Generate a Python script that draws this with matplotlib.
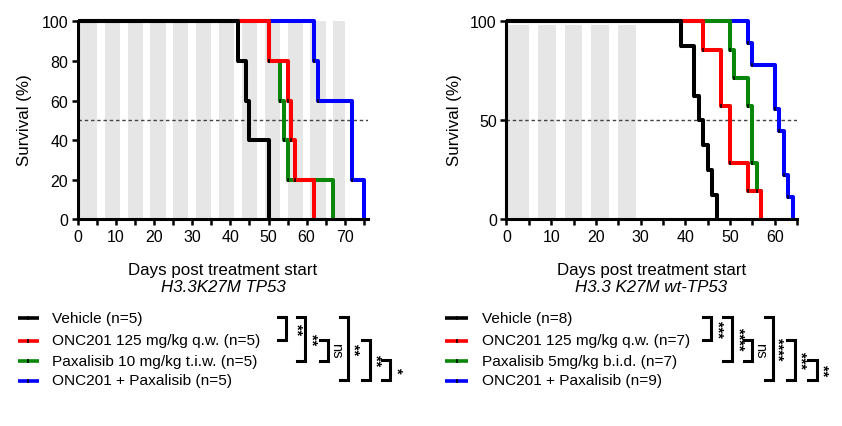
import numpy as np
import matplotlib
matplotlib.use('Agg')
import matplotlib.pyplot as plt
from matplotlib.ticker import MultipleLocator

plt.rcParams['font.family'] = ['Liberation Sans', 'DejaVu Sans']

# ---------------- data ----------------
# days of death for each mouse (no censoring)
left_vehicle = [42, 44, 45, 50, 50]
left_onc201 = [50, 55, 56, 57, 62]
left_paxalisib = [50, 53, 54, 55, 67]
left_combo = [62, 63, 72, 72, 75]

right_vehicle = [39, 42, 42, 43, 44, 45, 46, 47]
right_onc201 = [44, 48, 48, 50, 50, 54, 57]
right_paxalisib = [50, 51, 54, 55, 55, 56, 57]
right_combo = [54, 55, 60, 60, 61, 62, 62, 63, 64]

left_labels = ['Vehicle (n=5)', 'ONC201 125 mg/kg q.w. (n=5)',
               'Paxalisib 10 mg/kg t.i.w. (n=5)', 'ONC201 + Paxalisib (n=5)']
right_labels = ['Vehicle (n=8)', 'ONC201 125 mg/kg q.w. (n=7)',
                'Paxalisib 5mg/kg b.i.d. (n=7)', 'ONC201 + Paxalisib (n=9)']
group_colors = ['#000000', '#ff0000', '#0a870a', '#0000ff']

# treatment periods (grey bands), days
left_band_start = [0, 7, 13, 19, 25, 31, 37, 43, 49, 55, 61, 67]
left_band_end = [5, 11, 17, 23, 29, 35, 41, 47, 53, 59, 65, 70]
right_band_start = [0, 7, 13, 19, 25]
right_band_end = [5, 11, 17, 23, 29]

comparison_pairs = [(0, 1), (0, 2), (1, 2), (0, 3), (1, 3), (2, 3)]
left_significance = ['**', '**', 'ns', '**', '**', '*']
right_significance = ['***', '****', 'ns', '****', '***', '**']

left_subtitle = 'H3.3K27M TP53'
right_subtitle = 'H3.3 K27M wt-TP53'

# ---------------- layout ----------------
W, H = 842, 427
fig = plt.figure(figsize=(W / 100, H / 100), dpi=100)


def frac_rect(x0, x1, ytop, ybot):
    return [x0 / W, 1 - ybot / H, (x1 - x0) / W, (ybot - ytop) / H]


def km(days):
    d = np.sort(np.asarray(days))
    times, counts = np.unique(d, return_counts=True)
    surv = 100.0 * (1 - np.cumsum(counts) / len(d))
    return times, surv


def draw_panel(ax, groups, xmax, xticks_major, yticks, bstart, bend, btop):
    for s, e in zip(bstart, bend):
        ax.axvspan(s, e, ymin=0, ymax=btop / 100.0, color='#e6e6e6', lw=0, zorder=0)
    ax.axhline(50, color='#444444', lw=1.0, ls=(0, (2.5, 2)), zorder=1)
    # draw order: blue bottom ... black on top
    for i in reversed(range(len(groups))):
        times, surv = km(groups[i])
        x = np.concatenate([[0], times])
        y = np.concatenate([[100], surv])
        ax.step(x, y, where='post', color=group_colors[i], lw=2.9,
                zorder=3 + (len(groups) - i), clip_on=False, solid_capstyle='butt')
        m = surv > 0
        ax.plot(times[m], surv[m], ls='none', marker='|', ms=3.5, mew=1.1,
                color='k', zorder=10, clip_on=False)
    ax.set_xlim(0, xmax)
    ax.set_ylim(0, 100)
    ax.set_xticks(xticks_major)
    ax.xaxis.set_minor_locator(MultipleLocator(5))
    ax.set_yticks(yticks)
    for sp in ['top', 'right']:
        ax.spines[sp].set_visible(False)
    for sp in ['left', 'bottom']:
        ax.spines[sp].set_linewidth(2.2)
        ax.spines[sp].set_zorder(12)
    ax.tick_params(axis='both', which='both', direction='out', length=4, width=1.8,
                   labelsize=11.5, pad=3, colors='black')
    ax.patch.set_alpha(0)


axL = fig.add_axes(frac_rect(78, 78 + 76 * 3.81, 22.3, 220.3))
draw_panel(axL, [left_vehicle, left_onc201, left_paxalisib, left_combo], 76,
           np.arange(0, 71, 10), np.arange(0, 101, 20),
           left_band_start, left_band_end, 100)

axR = fig.add_axes(frac_rect(506.5, 506.5 + 65 * 4.47, 22.3, 220.3))
draw_panel(axR, [right_vehicle, right_onc201, right_paxalisib, right_combo], 65,
           np.arange(0, 61, 10), [0, 50, 100],
           right_band_start, right_band_end, 98)

# ---------------- overlay for labels, legend, brackets ----------------
ov = fig.add_axes([0, 0, 1, 1])
ov.set_xlim(0, W)
ov.set_ylim(H, 0)
ov.axis('off')
ov.patch.set_alpha(0)

# axis labels
for cx, yl_x, sub in [(223, 25, left_subtitle), (651.5, 455, right_subtitle)]:
    ov.text(cx, 270.5, 'Days post treatment start', ha='center', va='center', fontsize=12.2)
    ov.text(cx, 288, sub, ha='center', va='center', fontsize=12.2, style='italic')
    ov.text(yl_x, 120, 'Survival (%)', ha='center', va='center', fontsize=12.2, rotation=90)

rows = [319, 341.5, 362, 381.5]

# legends
for hx0, hx1, tx, labels in [(18, 38.5, 52, left_labels), (445, 468, 482, right_labels)]:
    for i, lab in enumerate(labels):
        ov.plot([hx0, hx1], [rows[i], rows[i]], color=group_colors[i], lw=2.6,
                solid_capstyle='butt')
        ov.plot([(hx0 + hx1) / 2], [rows[i]], marker='|', ms=3.5, mew=1.1, color='k')
        ov.text(tx, rows[i], lab, ha='left', va='center', fontsize=11.1)

# significance brackets
left_bracket_x = [286, 305, 328.3, 348.3, 370, 390]
left_label_x = [297, 312, 336, 353.5, 375.5, 397]
right_bracket_x = [711, 731.7, 752.3, 773.3, 795, 816.7]
right_label_x = [718, 738.5, 760, 778, 800.5, 823]
arm = 8.5
for bxs, lxs, sigs in [(left_bracket_x, left_label_x, left_significance),
                       (right_bracket_x, right_label_x, right_significance)]:
    for (a, b), bx, lx, s in zip(comparison_pairs, bxs, lxs, sigs):
        y0, y1 = rows[a] - 1, rows[b] - 0.5
        ov.plot([bx - arm, bx, bx, bx - arm], [y0, y0, y1, y1], color='k', lw=2.2,
                solid_joinstyle='miter')
        if s == 'ns':
            ov.text(lx, (y0 + y1) / 2, s, ha='center', va='center', rotation=-90,
                    fontsize=10.5)
        else:
            ov.text(lx, (y0 + y1) / 2, s, ha='center', va='center', rotation=-90,
                    fontsize=10.5, fontweight='bold')

fig.savefig('out.png', dpi=100)
